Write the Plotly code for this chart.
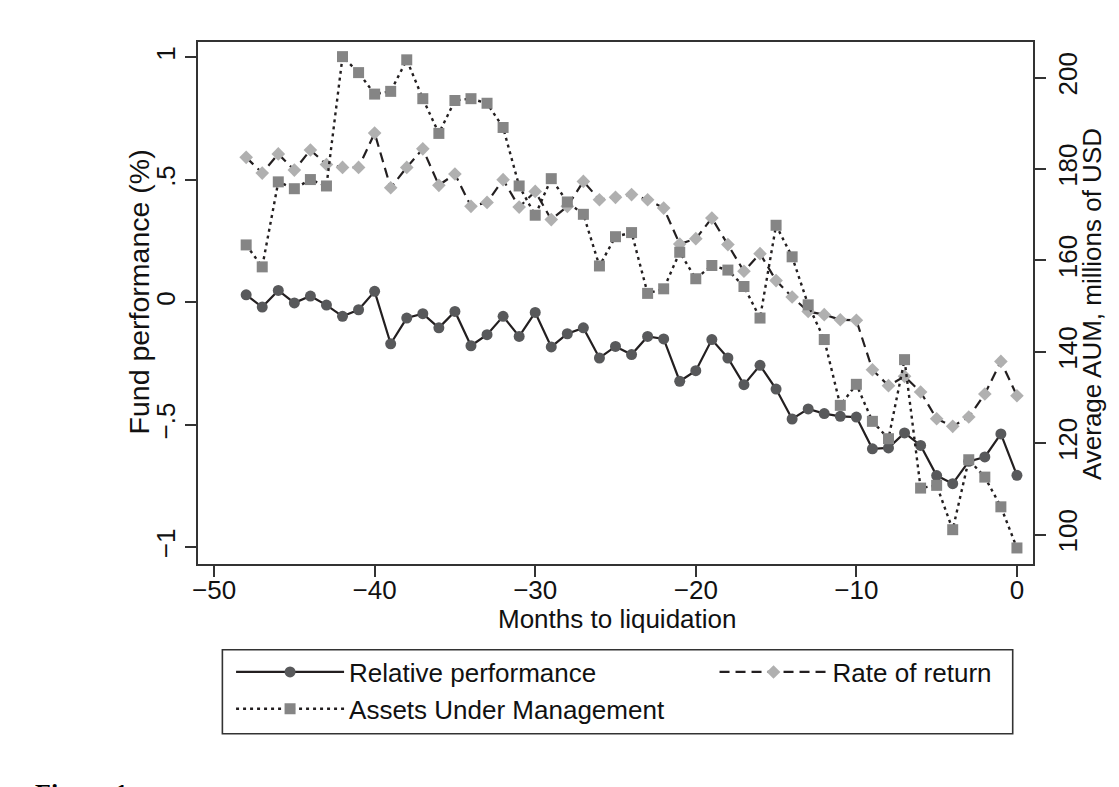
import plotly.graph_objects as go

months = list(range(-48, 1))
relative_perf = [0.031, -0.019, 0.049, -0.002, 0.026, -0.011, -0.057, -0.030, 0.045,
                 -0.169, -0.064, -0.046, -0.104, -0.037, -0.177, -0.132, -0.057, -0.139, -0.041,
                 -0.182, -0.128, -0.104, -0.227, -0.180, -0.213, -0.139, -0.149, -0.322, -0.279,
                 -0.152, -0.227, -0.336, -0.257, -0.354, -0.476, -0.435, -0.454, -0.465, -0.468,
                 -0.598, -0.594, -0.533, -0.584, -0.707, -0.740, -0.649, -0.631, -0.537, -0.706]
rate_of_return = [0.592, 0.528, 0.606, 0.540, 0.622, 0.563, 0.551, 0.551, 0.691,
                  0.468, 0.551, 0.627, 0.478, 0.524, 0.392, 0.408, 0.501, 0.389, 0.453,
                  0.338, 0.392, 0.494, 0.419, 0.429, 0.440, 0.419, 0.385, 0.238, 0.260,
                  0.344, 0.236, 0.127, 0.199, 0.089, 0.022, -0.037, -0.050, -0.071, -0.073,
                  -0.275, -0.340, -0.302, -0.366, -0.475, -0.506, -0.468, -0.374, -0.241, -0.381]
aum = [163.4, 158.6, 177.2, 175.7, 177.7, 176.3, 204.6, 201.1, 196.4,
       197.0, 203.9, 195.4, 187.8, 195.0, 195.4, 194.4, 189.1, 176.3, 169.9,
       177.9, 172.8, 170.1, 158.8, 165.2, 166.1, 152.8, 153.8, 161.8, 156.0,
       158.9, 157.9, 154.3, 147.4, 167.7, 160.8, 150.3, 142.7, 128.3, 132.9,
       124.8, 121.0, 138.3, 110.2, 110.8, 101.1, 116.4, 112.6, 106.1, 97.1]

x_ticks = [-50, -40, -30, -20, -10, 0]
x_ticktext = ["\u221250", "\u221240", "\u221230", "\u221220", "\u221210", "0"]
y_ticks = [-1, -0.5, 0, 0.5, 1]
y_ticktext = ["\u22121", "\u2212.5", "0", ".5", "1"]
y2_ticks = [100, 120, 140, 160, 180, 200]
y2_ticktext = ["100", "120", "140", "160", "180", "200"]

FONT = "Liberation Sans, Arial, sans-serif"
AX = "#333333"
LINE = "#231f20"
TXT = "#111111"

fig = go.Figure()
fig.add_trace(go.Scatter(
    x=months, y=relative_perf, name="Relative performance", mode="lines+markers",
    line=dict(color=LINE, width=2.2),
    marker=dict(symbol="circle", size=11, color="#58595b", line=dict(width=0)),
    legend="legend", legendgroup="a"))
fig.add_trace(go.Scatter(
    x=months, y=rate_of_return, name="Rate of return", mode="lines+markers",
    line=dict(color=LINE, width=2.2, dash="10px,6px"),
    marker=dict(symbol="diamond", size=10.5, color="#b0b0b0", line=dict(width=0)),
    legend="legend2", legendgroup="b"))
fig.add_trace(go.Scatter(
    x=months, y=aum, name="Assets Under Management", mode="lines+markers", yaxis="y2",
    line=dict(color=LINE, width=2.4, dash="3px,4px"),
    marker=dict(symbol="square", size=11, color="#858585", line=dict(width=0)),
    legend="legend", legendgroup="c"))

axis_common = dict(showline=True, linecolor=AX, linewidth=1.6, ticks="outside",
                   ticklen=11, tickwidth=1.5, tickcolor=AX, showgrid=False,
                   zeroline=False, tickfont=dict(family=FONT, size=26, color=TXT))

fig.update_layout(
    width=1111, height=779,
    margin=dict(l=190, r=86, t=34, b=223, autoexpand=False),
    paper_bgcolor="white", plot_bgcolor="white",
    showlegend=True,
    xaxis=dict(range=[-51, 1], tickvals=x_ticks, ticktext=x_ticktext, mirror=True,
               ticklabelstandoff=-9, **axis_common),
    yaxis=dict(range=[-1.068, 1.063], tickvals=y_ticks, ticktext=y_ticktext, tickangle=-90,
               **axis_common),
    yaxis2=dict(range=[93.59, 207.8], tickvals=y2_ticks, ticktext=y2_ticktext, tickangle=-90,
                overlaying="y", side="right", anchor="x", **axis_common),
    legend=dict(x=0.0396, y=-0.162, xanchor="left", yanchor="top", orientation="v",
                bgcolor="rgba(0,0,0,0)", borderwidth=0, itemwidth=108, tracegroupgap=0,
                font=dict(family=FONT, size=26, color=TXT)),
    legend2=dict(x=0.6186, y=-0.162, xanchor="left", yanchor="top", orientation="v",
                 bgcolor="rgba(0,0,0,0)", borderwidth=0, itemwidth=108,
                 font=dict(family=FONT, size=26, color=TXT)),
    shapes=[dict(type="rect", xref="paper", yref="paper", x0=0.0292, x1=0.9757,
                 y0=-0.3251, y1=-0.1642, line=dict(color=AX, width=1.6),
                 fillcolor="rgba(0,0,0,0)", layer="above")],
    annotations=[
        dict(text="Months to liquidation", xref="paper", yref="paper", x=0.5015, y=-0.1054,
             xanchor="center", yanchor="middle", showarrow=False,
             font=dict(family=FONT, size=26, color=TXT)),
        dict(text="Fund performance (%)", xref="paper", yref="paper", x=-0.0707, y=0.522,
             xanchor="center", yanchor="middle", showarrow=False, textangle=-90,
             font=dict(family=FONT, size=28.5, color=TXT)),
        dict(text="Average AUM, millions of USD", xref="paper", yref="paper", x=1.0707, y=0.498,
             xanchor="center", yanchor="middle", showarrow=False, textangle=-90,
             font=dict(family=FONT, size=26, color=TXT)),
        dict(text="<b>Figure 1</b>", xref="paper", yref="paper", x=-0.198, y=-0.4081,
             xanchor="left", yanchor="top", showarrow=False,
             font=dict(family="Liberation Serif, Times New Roman, serif", size=26, color="#000")),
    ],
)

fig.write_html("out.html")
